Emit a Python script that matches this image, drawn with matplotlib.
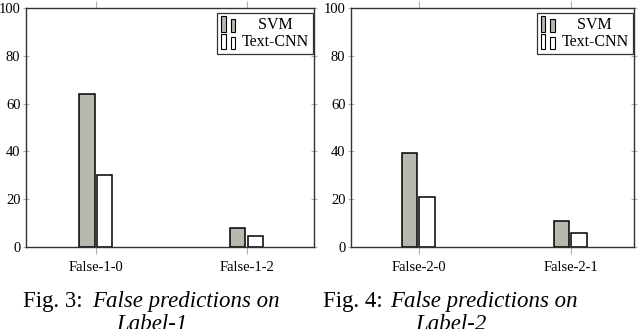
import matplotlib
matplotlib.use("Agg")
import matplotlib.pyplot as plt
from matplotlib.patches import Rectangle
from matplotlib.legend_handler import HandlerBase
import numpy as np

# === DATA ===
series_names = ["SVM", "Text-CNN"]
labels_fig3 = ["False-1-0", "False-1-2"]
svm_fig3 = [64, 8]
cnn_fig3 = [30, 4.7]
labels_fig4 = ["False-2-0", "False-2-1"]
svm_fig4 = [39.5, 10.9]
cnn_fig4 = [20.8, 5.7]
y_ticks = [0, 20, 40, 60, 80, 100]

# === STYLE ===
W, H = 640, 329
SVM_COLOR = "#b8b8ae"
CNN_COLOR = "white"
TICK_COLOR = "#b0b0b0"
plt.rcParams["font.family"] = ["Liberation Serif", "DejaVu Serif"]


class BarPairHandler(HandlerBase):
    # pgfplots style ybar legend: two small bars
    def create_artists(self, legend, orig_handle, xdescent, ydescent,
                       width, height, fontsize, trans):
        fc = orig_handle.patches[0].get_facecolor()
        r1 = Rectangle((-xdescent, -ydescent - 2), width * 0.3, height + 3,
                       facecolor=fc, edgecolor="black", linewidth=0.8, transform=trans)
        r2 = Rectangle((-xdescent + width * 0.58, -ydescent - 2), width * 0.3, height + 1,
                       facecolor=fc, edgecolor="black", linewidth=0.8, transform=trans)
        return [r1, r2]


def draw_panel(ax, cats, svm, cnn, xlim, anchor_x):
    x = np.arange(len(cats))
    b1 = ax.bar(x - 0.11, svm, width=0.1, align="edge", color=SVM_COLOR,
                edgecolor="black", linewidth=1.1, label=series_names[0])
    b2 = ax.bar(x + 0.005, cnn, width=0.1, align="edge", color=CNN_COLOR,
                edgecolor="black", linewidth=1.1, label=series_names[1])
    ax.set_xlim(*xlim)
    ax.set_ylim(0, 100)
    ax.set_xticks(x)
    ax.set_xticklabels(cats, fontsize=10.5)
    ax.set_yticks(y_ticks)
    ax.set_yticklabels([str(v) for v in y_ticks], fontsize=10.5)
    ax.tick_params(axis="x", direction="out", length=5, color=TICK_COLOR,
                   top=True, bottom=True, pad=5)
    ax.tick_params(axis="y", direction="inout", length=5, color=TICK_COLOR,
                   left=True, right=True, pad=1.5)
    for s in ax.spines.values():
        s.set_color("#333333")
        s.set_linewidth(1.0)
    leg = ax.legend(handles=[b1, b2], loc="upper right",
                    bbox_to_anchor=(anchor_x, 0.98), borderaxespad=0,
                    fancybox=False, edgecolor="#333333", framealpha=1,
                    fontsize=11.5, handlelength=1.0, handletextpad=0.3,
                    borderpad=0.25, labelspacing=0.1,
                    handler_map={b1: BarPairHandler(), b2: BarPairHandler()})
    leg.get_frame().set_linewidth(0.9)
    # SVM label sits centred in the text column, as in pgfplots
    t_svm, t_cnn = leg.get_texts()
    t_svm.set_text("    SVM")


fig = plt.figure(figsize=(W / 100, H / 100), dpi=100)

ax1 = fig.add_axes([26 / W, (H - 247) / H, 288 / W, 239 / H])
draw_panel(ax1, labels_fig3, svm_fig3, cnn_fig3, (-0.464, 1.444), 0.9976)

ax2 = fig.add_axes([351 / W, (H - 247) / H, 283 / W, 239 / H])
draw_panel(ax2, labels_fig4, svm_fig4, cnn_fig4, (-0.445, 1.416), 0.9954)

# captions (upright label + italic text)
cap_size = 16.5
y1, y2 = 1 - 306.5 / H, 1 - 330 / H
fig.text(23 / W, y1, "Fig. 3:", fontsize=cap_size, va="baseline")
fig.text(92.5 / W, y1, "False predictions on", fontsize=cap_size,
         style="italic", va="baseline")
fig.text(152 / W, y2, "Label-1", fontsize=cap_size, style="italic",
         va="baseline", ha="center")
fig.text(323 / W, y1, "Fig. 4:", fontsize=cap_size, va="baseline")
fig.text(390 / W, y1, "False predictions on", fontsize=cap_size,
         style="italic", va="baseline")
fig.text(451 / W, y2, "Label-2", fontsize=cap_size, style="italic",
         va="baseline", ha="center")

fig.savefig("out.png", dpi=100)
